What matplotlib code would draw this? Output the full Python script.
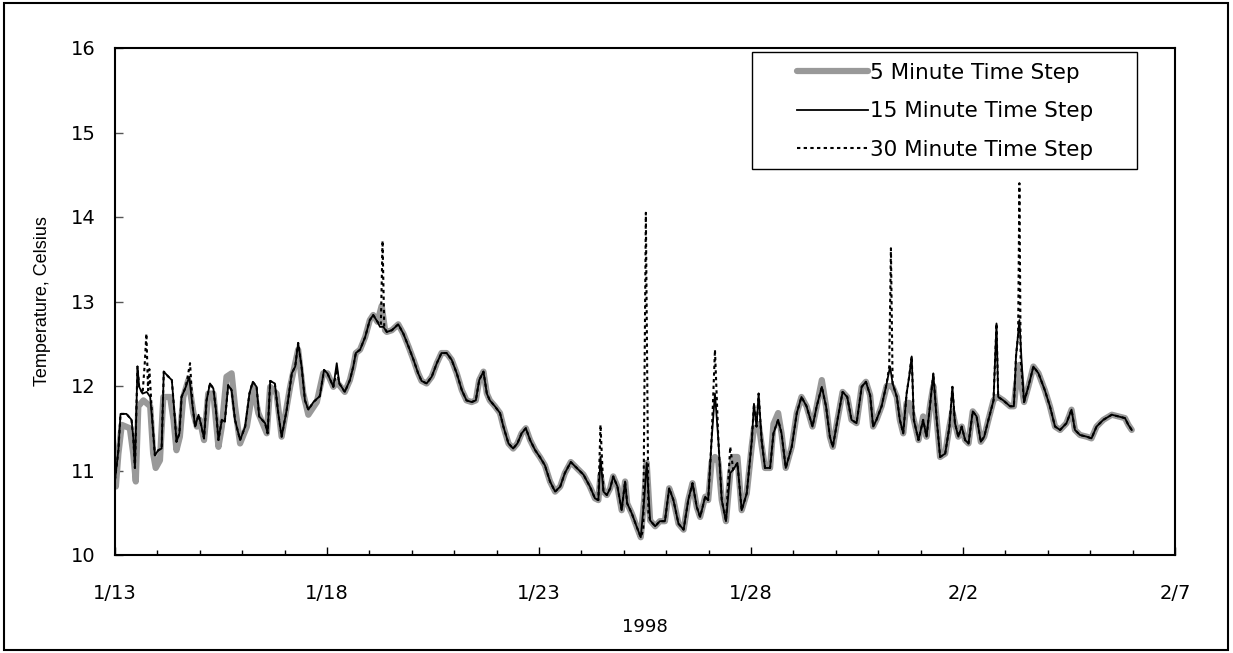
import numpy as np
import matplotlib
matplotlib.use("Agg")
import matplotlib.pyplot as plt
import matplotlib.dates as mdates
from matplotlib.patches import Rectangle
from matplotlib.ticker import FuncFormatter, FixedLocator
from datetime import datetime

plt.rcParams['font.family'] = ['DejaVu Sans']

START = datetime(1998, 1, 13)

# ---- data: (days since 1/13/1998, temperature in Celsius) ----
days_15 = [0.00, 0.08, 0.13, 0.27, 0.39, 0.43, 0.47, 0.53, 0.57, 0.65, 0.75, 0.83, 0.89, 0.94,
           1.02, 1.10, 1.15, 1.26, 1.34, 1.39, 1.45, 1.52, 1.57, 1.67, 1.75, 1.83, 1.89, 1.97,
           2.04, 2.10, 2.16, 2.24, 2.32, 2.38, 2.44, 2.52, 2.59, 2.67, 2.75, 2.83, 2.95,
           3.07, 3.17, 3.25, 3.34, 3.40, 3.54, 3.60, 3.66, 3.77, 3.85, 3.93,
           4.05, 4.17, 4.25, 4.32, 4.40, 4.48, 4.56, 4.68, 4.83, 4.93,
           5.01, 5.15, 5.23, 5.29, 5.42, 5.54, 5.62, 5.68, 5.78, 5.90,
           6.01, 6.09, 6.19, 6.25, 6.33, 6.41, 6.53, 6.68, 6.80, 6.92,
           7.04, 7.15, 7.23, 7.35, 7.47, 7.59, 7.70, 7.82, 7.94,
           8.06, 8.18, 8.29, 8.41, 8.51, 8.59, 8.69, 8.77, 8.84, 8.96,
           9.08, 9.16, 9.28, 9.39, 9.49, 9.59, 9.69, 9.79, 9.91,
           10.02, 10.14, 10.26, 10.38, 10.50, 10.61, 10.75, 10.89,
           11.05, 11.20, 11.32, 11.40, 11.45, 11.52, 11.60, 11.68, 11.75, 11.85, 11.95,
           12.03, 12.08, 12.19, 12.30, 12.40, 12.48, 12.54, 12.62, 12.74, 12.85, 12.97,
           13.07, 13.17, 13.29, 13.41, 13.52, 13.62, 13.72, 13.80, 13.92, 13.99,
           14.07, 14.15, 14.23, 14.31, 14.41, 14.51, 14.58, 14.68, 14.78, 14.90,
           15.02, 15.07, 15.13, 15.18, 15.25, 15.33, 15.45, 15.53, 15.64, 15.72, 15.82, 15.96,
           16.08, 16.19, 16.31, 16.45, 16.55, 16.67, 16.77, 16.86, 16.93,
           17.04, 17.16, 17.27, 17.37, 17.49, 17.61, 17.71, 17.81, 17.88, 17.96,
           18.08, 18.20, 18.28, 18.34, 18.44, 18.51, 18.59, 18.67, 18.73, 18.79, 18.84, 18.95,
           19.06, 19.14, 19.22, 19.30, 19.38, 19.46, 19.58, 19.68, 19.75, 19.81, 19.89, 19.97,
           20.05, 20.13, 20.23, 20.32, 20.42, 20.50, 20.60, 20.72, 20.79, 20.83, 20.95,
           21.11, 21.20, 21.25, 21.33, 21.38, 21.44, 21.54, 21.66, 21.78, 21.93,
           22.05, 22.17, 22.29, 22.44, 22.56, 22.64, 22.76, 22.92,
           23.03, 23.15, 23.31, 23.51, 23.66, 23.82, 23.90, 23.98]
temp_15 = [10.89, 11.24, 11.67, 11.67, 11.60, 11.40, 11.03, 12.23, 11.99, 11.91, 11.93, 11.87, 11.52, 11.18,
           11.24, 11.26, 12.17, 12.11, 12.07, 11.76, 11.34, 11.44, 11.87, 11.99, 12.11, 11.76, 11.52, 11.66,
           11.52, 11.38, 11.83, 12.03, 11.97, 11.72, 11.36, 11.60, 11.58, 12.01, 11.95, 11.60, 11.36,
           11.52, 11.91, 12.05, 11.99, 11.64, 11.56, 11.44, 12.06, 12.03, 11.68, 11.40,
           11.72, 12.15, 12.23, 12.51, 12.23, 11.83, 11.72, 11.81, 11.88, 12.19,
           12.15, 11.99, 12.27, 12.03, 11.93, 12.07, 12.23, 12.39, 12.43, 12.58,
           12.78, 12.84, 12.76, 12.70, 12.70, 12.64, 12.66, 12.73, 12.62, 12.47,
           12.31, 12.15, 12.06, 12.03, 12.11, 12.27, 12.39, 12.39, 12.31,
           12.15, 11.95, 11.83, 11.81, 11.83, 12.07, 12.17, 11.91, 11.83, 11.76,
           11.68, 11.52, 11.32, 11.26, 11.32, 11.44, 11.50, 11.36, 11.24,
           11.16, 11.06, 10.87, 10.75, 10.81, 10.97, 11.10, 11.03,
           10.95, 10.81, 10.67, 10.65, 11.16, 10.75, 10.71, 10.79, 10.93, 10.81, 10.53,
           10.87, 10.61, 10.49, 10.34, 10.21, 10.65, 11.09, 10.41, 10.34, 10.40, 10.40,
           10.79, 10.65, 10.37, 10.30, 10.65, 10.85, 10.57, 10.45, 10.69, 10.65,
           11.36, 11.91, 11.36, 10.65, 10.40, 10.97, 11.01, 11.09, 10.53, 10.73,
           11.36, 11.79, 11.52, 11.91, 11.36, 11.03, 11.03, 11.44, 11.60, 11.44, 11.03, 11.28,
           11.68, 11.87, 11.76, 11.52, 11.76, 11.99, 11.76, 11.40, 11.28,
           11.60, 11.93, 11.87, 11.60, 11.56, 11.99, 12.05, 11.89, 11.52, 11.60,
           11.76, 12.03, 12.23, 12.03, 11.87, 11.60, 11.44, 11.91, 12.11, 12.35, 11.60, 11.36,
           11.60, 11.40, 11.76, 12.15, 11.60, 11.16, 11.20, 11.52, 11.99, 11.56, 11.40, 11.52,
           11.36, 11.32, 11.70, 11.64, 11.34, 11.40, 11.60, 11.83, 12.74, 11.87, 11.83,
           11.76, 11.76, 12.35, 12.78, 12.31, 11.81, 11.99, 12.23, 12.15, 11.95,
           11.76, 11.52, 11.48, 11.56, 11.72, 11.48, 11.42, 11.40,
           11.38, 11.52, 11.60, 11.66, 11.64, 11.62, 11.54, 11.48]

days_5 = [0.02, 0.08, 0.16, 0.35, 0.43, 0.49, 0.55, 0.67, 0.83, 0.90, 0.96,
          1.06, 1.14, 1.30, 1.38, 1.45, 1.53, 1.61, 1.73, 1.85, 1.93,
          2.00, 2.10, 2.20, 2.32, 2.44, 2.52, 2.63, 2.75, 2.83, 2.95,
          3.11, 3.26, 3.38, 3.58, 3.66, 3.81, 3.93,
          4.13, 4.32, 4.44, 4.56, 4.76, 4.91,
          5.01, 5.15, 5.23, 5.29, 5.42, 5.54, 5.62, 5.68, 5.78, 5.90,
          6.01, 6.09, 6.19, 6.29, 6.37, 6.41, 6.53, 6.68, 6.80, 6.92,
          7.04, 7.15, 7.23, 7.35, 7.47, 7.59, 7.70, 7.82, 7.94,
          8.06, 8.18, 8.29, 8.41, 8.51, 8.59, 8.69, 8.77, 8.84, 8.96,
          9.08, 9.16, 9.28, 9.39, 9.49, 9.59, 9.69, 9.79, 9.91,
          10.02, 10.14, 10.26, 10.38, 10.50, 10.61, 10.75, 10.89,
          11.05, 11.20, 11.32, 11.40, 11.45, 11.52, 11.60, 11.68, 11.75, 11.85, 11.95,
          12.03, 12.08, 12.19, 12.30, 12.40, 12.48, 12.54, 12.62, 12.74, 12.85, 12.97,
          13.07, 13.17, 13.29, 13.41, 13.52, 13.62, 13.72, 13.80, 13.92, 13.99,
          14.07, 14.15, 14.23, 14.31, 14.41, 14.51, 14.58, 14.68, 14.78, 14.90,
          15.02, 15.07, 15.13, 15.18, 15.25, 15.33, 15.45, 15.53, 15.64, 15.72, 15.82, 15.96,
          16.08, 16.19, 16.31, 16.45, 16.55, 16.67, 16.77, 16.86, 16.93,
          17.04, 17.16, 17.27, 17.37, 17.49, 17.61, 17.71, 17.81, 17.88, 17.96,
          18.08, 18.20, 18.28, 18.34, 18.44, 18.51, 18.59, 18.67, 18.73, 18.79, 18.84, 18.95,
          19.06, 19.14, 19.22, 19.30, 19.38, 19.46, 19.58, 19.68, 19.75, 19.81, 19.89, 19.97,
          20.05, 20.13, 20.23, 20.32, 20.42, 20.50, 20.60, 20.72, 20.79, 20.83, 20.95,
          21.11, 21.20, 21.25, 21.33, 21.38, 21.44, 21.54, 21.66, 21.78, 21.93,
          22.05, 22.17, 22.29, 22.44, 22.56, 22.64, 22.76, 22.92,
          23.03, 23.15, 23.31, 23.51, 23.66, 23.82, 23.90, 23.98]
temp_5 = [10.81, 11.20, 11.54, 11.50, 11.20, 10.87, 11.76, 11.83, 11.76, 11.20, 11.03,
          11.12, 11.87, 11.87, 11.60, 11.24, 11.40, 11.87, 12.07, 11.68, 11.52,
          11.60, 11.36, 11.91, 11.91, 11.28, 11.52, 12.11, 12.15, 11.76, 11.32,
          11.52, 11.99, 11.68, 11.44, 11.99, 11.91, 11.40,
          11.99, 12.43, 11.91, 11.66, 11.81, 12.15,
          12.15, 11.99, 12.05, 12.01, 11.93, 12.07, 12.23, 12.39, 12.43, 12.58,
          12.78, 12.84, 12.76, 12.95, 12.66, 12.64, 12.66, 12.73, 12.62, 12.47,
          12.31, 12.15, 12.06, 12.03, 12.11, 12.27, 12.39, 12.39, 12.31,
          12.15, 11.95, 11.83, 11.81, 11.83, 12.07, 12.17, 11.91, 11.83, 11.76,
          11.68, 11.52, 11.32, 11.26, 11.32, 11.44, 11.50, 11.36, 11.24,
          11.16, 11.06, 10.87, 10.75, 10.81, 10.97, 11.10, 11.03,
          10.95, 10.81, 10.67, 10.65, 10.95, 10.75, 10.71, 10.79, 10.93, 10.81, 10.53,
          10.87, 10.61, 10.49, 10.34, 10.21, 10.65, 11.09, 10.41, 10.34, 10.40, 10.40,
          10.79, 10.65, 10.37, 10.30, 10.65, 10.85, 10.57, 10.45, 10.69, 10.65,
          11.10, 11.16, 11.10, 10.65, 10.40, 10.97, 11.16, 11.16, 10.53, 10.73,
          11.30, 11.50, 11.50, 11.55, 11.30, 11.03, 11.03, 11.55, 11.68, 11.44, 11.03, 11.28,
          11.68, 11.87, 11.76, 11.52, 11.76, 12.07, 11.76, 11.40, 11.28,
          11.60, 11.93, 11.87, 11.60, 11.56, 11.99, 12.05, 11.89, 11.52, 11.60,
          11.76, 12.00, 12.00, 11.99, 11.87, 11.60, 11.44, 11.80, 11.80, 11.70, 11.60, 11.36,
          11.64, 11.40, 11.76, 12.00, 11.60, 11.16, 11.20, 11.52, 11.70, 11.56, 11.40, 11.52,
          11.36, 11.32, 11.70, 11.64, 11.34, 11.40, 11.60, 11.83, 11.87, 11.87, 11.83,
          11.76, 11.76, 12.00, 12.25, 12.00, 11.81, 11.99, 12.23, 12.15, 11.95,
          11.76, 11.52, 11.48, 11.56, 11.72, 11.48, 11.42, 11.40,
          11.38, 11.52, 11.60, 11.66, 11.64, 11.62, 11.54, 11.48]

days_30 = [0.00, 0.08, 0.13, 0.27, 0.39, 0.43, 0.47, 0.53, 0.57, 0.65, 0.70, 0.74, 0.78, 0.81, 0.85, 0.89, 0.94,
           1.02, 1.10, 1.15, 1.26, 1.34, 1.39, 1.45, 1.52, 1.57, 1.67, 1.77, 1.83, 1.89, 1.97,
           2.04, 2.10, 2.16, 2.24, 2.32, 2.38, 2.44, 2.52, 2.59, 2.67, 2.75, 2.83, 2.95,
           3.07, 3.17, 3.25, 3.34, 3.40, 3.54, 3.60, 3.66, 3.77, 3.85, 3.93,
           4.05, 4.17, 4.25, 4.32, 4.40, 4.48, 4.56, 4.68, 4.83, 4.93,
           5.01, 5.15, 5.23, 5.29, 5.42, 5.54, 5.62, 5.68, 5.78, 5.90,
           6.01, 6.09, 6.19, 6.27, 6.31, 6.35, 6.41, 6.53, 6.68, 6.80, 6.92,
           7.04, 7.15, 7.23, 7.35, 7.47, 7.59, 7.70, 7.82, 7.94,
           8.06, 8.18, 8.29, 8.41, 8.51, 8.59, 8.69, 8.77, 8.84, 8.96,
           9.08, 9.16, 9.28, 9.39, 9.49, 9.59, 9.69, 9.79, 9.91,
           10.02, 10.14, 10.26, 10.38, 10.50, 10.61, 10.75, 10.89,
           11.05, 11.20, 11.32, 11.40, 11.45, 11.52, 11.60, 11.68, 11.75, 11.85, 11.95,
           12.03, 12.08, 12.19, 12.30, 12.40, 12.46, 12.52, 12.58, 12.62, 12.74, 12.85, 12.97,
           13.07, 13.17, 13.29, 13.41, 13.52, 13.62, 13.72, 13.80, 13.92, 13.99,
           14.07, 14.15, 14.23, 14.31, 14.41, 14.51, 14.58, 14.68, 14.78, 14.90,
           15.02, 15.07, 15.13, 15.18, 15.25, 15.33, 15.45, 15.53, 15.64, 15.72, 15.82, 15.96,
           16.08, 16.19, 16.31, 16.45, 16.55, 16.67, 16.77, 16.86, 16.93,
           17.04, 17.16, 17.27, 17.37, 17.49, 17.61, 17.71, 17.81, 17.88, 17.96,
           18.08, 18.20, 18.26, 18.30, 18.34, 18.44, 18.51, 18.59, 18.67, 18.73, 18.79, 18.84, 18.95,
           19.06, 19.14, 19.22, 19.30, 19.38, 19.46, 19.58, 19.68, 19.75, 19.81, 19.89, 19.97,
           20.05, 20.13, 20.23, 20.32, 20.42, 20.50, 20.60, 20.72, 20.79, 20.83, 20.95,
           21.11, 21.20, 21.25, 21.30, 21.33, 21.36, 21.44, 21.54, 21.66, 21.78, 21.93,
           22.05, 22.17, 22.29, 22.44, 22.56, 22.64, 22.76, 22.92,
           23.03, 23.15, 23.31, 23.51, 23.66, 23.82, 23.90, 23.98]
temp_30 = [10.89, 11.24, 11.67, 11.67, 11.60, 11.40, 11.03, 12.23, 11.99, 11.91, 12.25, 12.62, 11.95, 12.20, 11.87, 11.52, 11.18,
           11.24, 11.26, 12.17, 12.11, 12.07, 11.76, 11.34, 11.44, 11.87, 11.99, 12.27, 11.76, 11.52, 11.66,
           11.52, 11.38, 11.83, 12.03, 11.97, 11.72, 11.36, 11.60, 11.58, 12.01, 11.95, 11.60, 11.36,
           11.52, 11.91, 12.05, 11.99, 11.64, 11.56, 11.44, 12.06, 12.03, 11.68, 11.40,
           11.72, 12.15, 12.23, 12.51, 12.23, 11.83, 11.72, 11.81, 11.88, 12.19,
           12.15, 11.99, 12.20, 12.03, 11.93, 12.07, 12.23, 12.39, 12.43, 12.58,
           12.78, 12.84, 12.76, 12.72, 13.72, 12.70, 12.64, 12.66, 12.73, 12.62, 12.47,
           12.31, 12.15, 12.06, 12.03, 12.11, 12.27, 12.39, 12.39, 12.31,
           12.15, 11.95, 11.83, 11.81, 11.83, 12.07, 12.17, 11.91, 11.83, 11.76,
           11.68, 11.52, 11.32, 11.26, 11.32, 11.44, 11.50, 11.36, 11.24,
           11.16, 11.06, 10.87, 10.75, 10.81, 10.97, 11.10, 11.03,
           10.95, 10.81, 10.67, 10.65, 11.54, 10.75, 10.71, 10.79, 10.93, 10.81, 10.53,
           10.87, 10.61, 10.49, 10.34, 10.21, 10.30, 14.05, 10.50, 10.41, 10.34, 10.40, 10.40,
           10.79, 10.65, 10.37, 10.30, 10.65, 10.85, 10.57, 10.45, 10.69, 10.65,
           11.36, 12.43, 11.36, 10.65, 10.40, 11.28, 11.01, 11.09, 10.53, 10.73,
           11.36, 11.79, 11.52, 11.91, 11.36, 11.03, 11.03, 11.44, 11.60, 11.44, 11.03, 11.28,
           11.68, 11.87, 11.76, 11.52, 11.76, 11.99, 11.76, 11.40, 11.28,
           11.60, 11.93, 11.87, 11.60, 11.56, 11.99, 12.05, 11.89, 11.52, 11.60,
           11.76, 12.03, 12.23, 13.63, 12.03, 11.87, 11.60, 11.44, 11.91, 12.11, 12.35, 11.60, 11.36,
           11.60, 11.40, 11.76, 12.15, 11.60, 11.16, 11.20, 11.52, 11.99, 11.56, 11.40, 11.52,
           11.36, 11.32, 11.70, 11.64, 11.34, 11.40, 11.60, 11.83, 12.74, 11.87, 11.83,
           11.76, 11.76, 12.35, 12.60, 14.40, 12.31, 11.81, 11.99, 12.23, 12.15, 11.95,
           11.76, 11.52, 11.48, 11.56, 11.72, 11.48, 11.42, 11.40,
           11.38, 11.52, 11.60, 11.66, 11.64, 11.62, 11.54, 11.48]

series_labels = ["5 Minute Time Step", "15 Minute Time Step", "30 Minute Time Step"]
y_ticks = [10, 11, 12, 13, 14, 15, 16]
x_major_days = [0, 5, 10, 15, 20, 25]
x_minor_days = list(range(0, 26))
x_label = "1998"
y_label = "Temperature, Celsius"

start_num = mdates.date2num(START)


def to_dates(days):
    return start_num + np.asarray(days, dtype=float)


fig = plt.figure(figsize=(12.33, 6.53), dpi=100)
fig.patch.set_facecolor("white")
fig.add_artist(Rectangle((4 / 1233, 3 / 653), 1224 / 1233, 647 / 653,
                         transform=fig.transFigure, fill=False,
                         edgecolor="black", linewidth=1.5))

ax = fig.add_axes([115 / 1233, 1 - 555 / 653, 1060 / 1233, 507 / 653])

ax.plot(to_dates(days_5), temp_5, color="#999999", linewidth=4.5,
        solid_joinstyle="round", solid_capstyle="round",
        label=series_labels[0], zorder=2)
ax.plot(to_dates(days_15), temp_15, color="black", linewidth=1.3,
        label=series_labels[1], zorder=3)
ax.plot(to_dates(days_30), temp_30, color="black", linewidth=1.5,
        linestyle=(0, (1.6, 1.6)), label=series_labels[2], zorder=4)

ax.set_xlim(start_num, start_num + 25)
ax.set_ylim(10, 16)
ax.set_yticks(y_ticks)
ax.xaxis.set_major_locator(FixedLocator(to_dates(x_major_days)))
ax.xaxis.set_minor_locator(FixedLocator(to_dates(x_minor_days)))


def fmt_date(x, pos):
    d = mdates.num2date(x)
    return f"{d.month}/{d.day}"


ax.xaxis.set_major_formatter(FuncFormatter(fmt_date))
ax.tick_params(axis="x", which="major", direction="in", length=5.5, width=1,
               pad=21, labelsize=14)
ax.tick_params(axis="x", which="minor", direction="in", length=3.5, width=1)
ax.tick_params(axis="y", which="major", direction="in", length=6, width=1,
               pad=14, labelsize=14, color="#555555")
for s in ax.spines.values():
    s.set_linewidth(1.5)
    s.set_color("black")

ax.set_xlabel(x_label, fontsize=13, labelpad=11)
ax.set_ylabel(y_label, fontsize=13, labelpad=14, family="Liberation Sans")

leg = ax.legend(loc="upper left", bbox_to_anchor=(0.643, 0.971),
                frameon=False, fontsize=15.5, borderpad=0, borderaxespad=0,
                handlelength=3.3, handletextpad=0.1, labelspacing=0.86)
ax.add_patch(Rectangle((0.601, 0.761), 0.363, 0.231, transform=ax.transAxes,
                       fill=False, edgecolor="black", linewidth=1, zorder=5))

fig.savefig("out.png", dpi=100, facecolor="white")
